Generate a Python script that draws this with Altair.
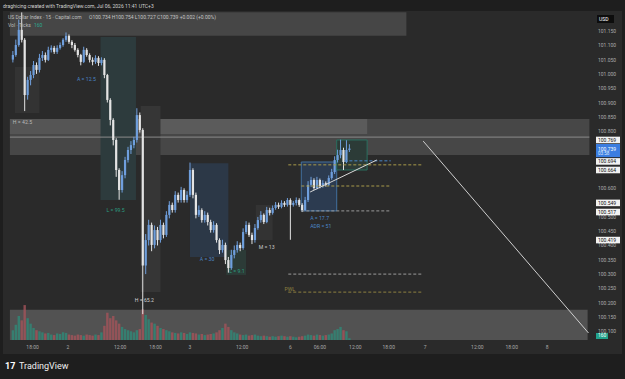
import altair as alt
import pandas as pd

FONT = "Roboto"

# ---------------- data (30-minute candles, US Dollar Index) ----------------
first_open = 101.050
closes = [
    101.066, 101.101, 101.154, 101.119, 100.926, 100.979, 100.996, 101.031, 101.014, 101.056,
    101.066, 101.049, 101.084, 101.091, 101.077, 101.091, 101.101, 101.119, 101.133, 101.112,
    101.101, 101.084, 101.066, 101.042, 101.084, 101.066, 101.049, 101.042, 101.056, 101.038,
    101.049, 100.996, 100.909, 100.839, 100.769, 100.664, 100.594, 100.646, 100.699, 100.734,
    100.751, 100.769, 100.856, 100.804, 100.330, 100.419, 100.472, 100.402, 100.454, 100.419,
    100.472, 100.437, 100.507, 100.542, 100.524, 100.577, 100.559, 100.594, 100.559, 100.577,
    100.664, 100.577, 100.507, 100.524, 100.489, 100.507, 100.482, 100.454, 100.472, 100.419,
    100.384, 100.402, 100.349, 100.321, 100.367, 100.384, 100.402, 100.391, 100.447, 100.472,
    100.437, 100.419, 100.461, 100.489, 100.507, 100.482, 100.524, 100.514, 100.531, 100.542,
    100.535, 100.549, 100.542, 100.559, 100.542, 100.549, 100.559, 100.542, 100.524, 100.559,
    100.612, 100.629, 100.601, 100.629, 100.608, 100.618, 100.612, 100.636, 100.657, 100.699,
    100.716, 100.734, 100.692, 100.734, 100.739,
]
highs = [
    101.080, 101.120, 101.190, 101.215, 101.125, 100.990, 101.010, 101.045, 101.040, 101.070,
    101.080, 101.075, 101.095, 101.100, 101.098, 101.100, 101.110, 101.125, 101.145, 101.138,
    101.118, 101.108, 101.090, 101.070, 101.095, 101.090, 101.072, 101.058, 101.065, 101.062,
    101.058, 101.055, 101.000, 100.915, 100.845, 100.775, 100.670, 100.660, 100.710, 100.745,
    100.765, 100.780, 100.880, 100.865, 100.810, 100.440, 100.490, 100.480, 100.470, 100.465,
    100.490, 100.480, 100.520, 100.555, 100.550, 100.590, 100.585, 100.605, 100.600, 100.590,
    100.690, 100.670, 100.585, 100.540, 100.530, 100.520, 100.515, 100.490, 100.485, 100.478,
    100.425, 100.420, 100.410, 100.360, 100.385, 100.400, 100.415, 100.410, 100.460, 100.485,
    100.480, 100.445, 100.475, 100.500, 100.520, 100.512, 100.535, 100.532, 100.540, 100.552,
    100.550, 100.558, 100.555, 100.566, 100.565, 100.556, 100.568, 100.565, 100.548, 100.570,
    100.625, 100.640, 100.635, 100.640, 100.634, 100.628, 100.624, 100.645, 100.668, 100.712,
    100.735, 100.770, 100.742, 100.768, 100.754,
]
lows = [
    101.040, 101.060, 101.095, 101.110, 100.870, 100.910, 100.960, 100.985, 101.000, 101.005,
    101.045, 101.040, 101.045, 101.075, 101.070, 101.070, 101.085, 101.095, 101.112, 101.105,
    101.090, 101.078, 101.058, 101.030, 101.038, 101.060, 101.040, 101.030, 101.035, 101.028,
    101.030, 100.985, 100.900, 100.820, 100.750, 100.640, 100.560, 100.585, 100.635, 100.690,
    100.720, 100.740, 100.760, 100.795, 100.160, 100.300, 100.400, 100.380, 100.390, 100.400,
    100.410, 100.425, 100.430, 100.495, 100.515, 100.515, 100.550, 100.550, 100.550, 100.550,
    100.570, 100.565, 100.495, 100.500, 100.480, 100.480, 100.470, 100.445, 100.445, 100.410,
    100.370, 100.375, 100.335, 100.305, 100.315, 100.355, 100.375, 100.380, 100.385, 100.440,
    100.430, 100.405, 100.410, 100.455, 100.480, 100.475, 100.478, 100.505, 100.508, 100.525,
    100.528, 100.530, 100.535, 100.536, 100.420, 100.536, 100.540, 100.535, 100.517, 100.520,
    100.552, 100.605, 100.595, 100.596, 100.600, 100.602, 100.606, 100.608, 100.630, 100.650,
    100.690, 100.705, 100.664, 100.688, 100.727,
]
volumes = [
    900, 1400, 2200, 1800, 3200, 2000, 1500, 1100, 900, 800,
    700, 600, 650, 500, 450, 600, 550, 700, 650, 500,
    450, 400, 500, 450, 400, 500, 450, 400, 500, 450,
    700, 1300, 2500, 2000, 2200, 1800, 1500, 1200, 1000, 900,
    800, 700, 900, 1000, 2800, 2300, 1900, 1600, 1500, 1300,
    1100, 1000, 900, 800, 700, 650, 600, 700, 650, 550,
    700, 650, 600, 500, 550, 450, 500, 550, 600, 700,
    900, 1100, 1500, 1200, 900, 700, 600, 500, 450, 500,
    400, 450, 500, 400, 350, 400, 350, 300, 350, 300,
    350, 400, 350, 300, 350, 300, 250, 300, 350, 400,
    500, 450, 400, 500, 450, 400, 450, 500, 600, 900,
    1000, 1200, 900, 800, 160,
]

time_tick_pos = [6.67, 18.67, 36.33, 48.33, 60, 77.67, 94, 104, 116, 127.33, 139.67, 157.33, 169, 181]
time_tick_lbl = ["18:00", "2", "12:00", "18:00", "3", "12:00", "6", "06:00", "12:00", "18:00", "7", "12:00", "18:00", "8"]

price_ticks = [101.150, 101.100, 101.050, 101.000, 100.950, 100.900, 100.850, 100.800,
               100.600, 100.500, 100.450, 100.400, 100.350, 100.300, 100.250, 100.200, 100.150, 100.100]
marked_prices = [100.769, 100.694, 100.664, 100.549, 100.517, 100.419]
last_price = 100.739

# zones / drawings in (bar index, price)
zone_x1 = [-1.0, -1.0, -1.0, 43.0, -1.0]
zone_x2 = [133.3, 195.3, 120.0, 120.0, 194.7]
zone_p1 = [101.216, 100.842, 100.842, 100.842, 100.175]
zone_p2 = [101.133, 100.716, 100.790, 100.790, 100.070]
zone_fill = ["#464646", "#474747", "#555555", "#5b5b5b", "#525252"]

shade_x1 = [0.7, 29.7, 43.3, 60.0, 72.3, 82.3]
shade_x2 = [9.0, 41.7, 50.0, 73.0, 79.0, 88.0]
shade_p1 = [101.024, 101.129, 100.888, 100.688, 100.384, 100.542]
shade_p2 = [100.863, 100.559, 100.237, 100.360, 100.297, 100.419]
shade_fill = ["#333333", "#2d3b3d", "#363636", "#2c3847", "#2c3b37", "#333333"]

dash_x1 = [93.3, 97.7, 97.7, 112.3, 93.3, 93.3]
dash_x2 = [139.0, 128.0, 128.0, 128.0, 139.0, 139.0]
dash_p = [100.682, 100.608, 100.521, 100.696, 100.300, 100.237]
dash_col = ["#a89a4a", "#a89a4a", "#9a9a9a", "#4a86c8", "#9a9a9a", "#8f8240"]

ann_i = [0.0, 21.7, 31.7, 41.3, 63.3, 73.3, 83.3, 100.7, 100.7, 92.0]
ann_p = [100.832, 100.982, 100.524, 100.209, 100.353, 100.311, 100.395, 100.496, 100.468, 100.248]
ann_txt = ["H = 42.5", "A = 12.5", "L = 99.5", "H = 65.2", "A = 30", "L = 9.1", "M = 13",
           "A = 17.7", "ADR = 51", "PWL"]
ann_col = ["#b8b8b8", "#4a86c8", "#2a9d80", "#d0d0d0", "#4a86c8", "#2a9d80", "#c8c8c8",
           "#4a86c8", "#4a86c8", "#8f8240"]

# ---------------- frames ----------------
n = len(closes)
opens = [first_open] + closes[:-1]
cdf = pd.DataFrame({"i": list(range(n)), "open": opens, "close": closes,
                    "high": highs, "low": lows, "vol": volumes})
up = cdf["close"] >= cdf["open"]
cdf["ccol"] = ["#6f9fdd" if u else "#e4e4e4" for u in up]
cdf["vcol"] = ["#2f8a78" if u else "#a4545a" for u in up]

XS = alt.Scale(domain=[-8 / 3, 617 / 3], nice=False, zero=False)
YS = alt.Scale(domain=[99.9332, 101.2584], nice=False, zero=False)
X = lambda f: alt.X(f, scale=XS, axis=None)
Y = lambda f: alt.Y(f, scale=YS, axis=None)
one = pd.DataFrame({"k": [0]})


def ptext(txt, x, y, size=5.0, color="#b2b2b2", weight="normal", align="left"):
    return alt.Chart(one).mark_text(text=txt, fontSize=size, color=color, font=FONT,
                                    fontWeight=weight, align=align, baseline="middle").encode(
        x=alt.value(x), y=alt.value(y))


pane = alt.Chart(one).mark_rect(color="#2a2a2a").encode(
    x=alt.value(3), x2=alt.value(622), y=alt.value(11), y2=alt.value(354))

zdf = pd.DataFrame({"x1": zone_x1, "x2": zone_x2, "p1": zone_p1, "p2": zone_p2, "f": zone_fill})
zones = alt.Chart(zdf).mark_rect().encode(x=X("x1:Q"), x2="x2:Q", y=Y("p1:Q"), y2="p2:Q",
                                           color=alt.Color("f:N", scale=None))
sdf = pd.DataFrame({"x1": shade_x1, "x2": shade_x2, "p1": shade_p1, "p2": shade_p2, "f": shade_fill})
shades = alt.Chart(sdf).mark_rect().encode(x=X("x1:Q"), x2="x2:Q", y=Y("p1:Q"), y2="p2:Q",
                                           color=alt.Color("f:N", scale=None))
hline = alt.Chart(pd.DataFrame({"x1": [-1.0], "x2": [195.3], "p": [100.779]})).mark_rule(
    color="#8c8c8c", strokeWidth=1).encode(x=X("x1:Q"), x2="x2:Q", y=Y("p:Q"))

box_df = pd.DataFrame({"x1": [97.7, 109.7], "x2": [109.7, 120.0], "p1": [100.692, 100.769],
                       "p2": [100.521, 100.664], "f": ["#2c3b50", "#2c3b37"], "s": ["#42709f", "#2a6f60"]})
boxes = alt.Chart(box_df).mark_rect(strokeWidth=1).encode(
    x=X("x1:Q"), x2="x2:Q", y=Y("p1:Q"), y2="p2:Q",
    color=alt.Color("f:N", scale=None), stroke=alt.Stroke("s:N", scale=None))

bg_group = alt.layer(zones, shades, hline, boxes)

vol = alt.Chart(cdf).mark_bar(size=2.4, opacity=0.8).encode(
    x=X("i:Q"), y=alt.Y("vol:Q", scale=alt.Scale(domain=[0, 3300], range=[340, 304]), axis=None),
    color=alt.Color("vcol:N", scale=None))

wicks = alt.Chart(cdf).mark_rule(strokeWidth=1).encode(
    x=X("i:Q"), y=Y("low:Q"), y2="high:Q", color=alt.Color("ccol:N", scale=None))
bodies = alt.Chart(cdf).mark_bar(size=2.2).encode(
    x=X("i:Q"), y=Y("open:Q"), y2="close:Q", color=alt.Color("ccol:N", scale=None))

ddf = pd.DataFrame({"x1": dash_x1, "x2": dash_x2, "p": dash_p, "c": dash_col})
dashes = alt.Chart(ddf).mark_rule(strokeWidth=1, strokeDash=[3, 2]).encode(
    x=X("x1:Q"), x2="x2:Q", y=Y("p:Q"), color=alt.Color("c:N", scale=None))
ldf = pd.DataFrame({"x1": [100.7, 139.0], "x2": [123.3, 195.0], "p1": [100.587, 100.765],
                    "p2": [100.699, 100.094], "c": ["#d8d8d8", "#cfcfcf"]})
lines = alt.Chart(ldf).mark_rule(strokeWidth=1).encode(
    x=X("x1:Q"), x2="x2:Q", y=Y("p1:Q"), y2="p2:Q", color=alt.Color("c:N", scale=None))

adf = pd.DataFrame({"i": ann_i, "p": ann_p, "t": ann_txt, "c": ann_col})
anns = alt.Chart(adf).mark_text(align="left", baseline="middle", fontSize=5.2, font=FONT).encode(
    x=X("i:Q"), y=Y("p:Q"), text="t:N", color=alt.Color("c:N", scale=None))

# price axis
pdf = pd.DataFrame({"p": price_ticks})
plabels = alt.Chart(pdf).mark_text(align="left", baseline="middle", fontSize=5, font=FONT,
                                   color="#aaaaaa").encode(
    x=alt.value(598), y=Y("p:Q"), text=alt.Text("p:Q", format=".3f"))
mdf = pd.DataFrame({"p": marked_prices})
mdf["pt"] = mdf["p"] + 0.0115
mdf["pb"] = mdf["p"] - 0.0115
mboxes = alt.Chart(mdf).mark_rect(color="#f2f2f2").encode(
    x=alt.value(596), x2=alt.value(620), y=Y("pt:Q"), y2="pb:Q")
mtext = alt.Chart(mdf).mark_text(align="left", baseline="middle", fontSize=5, font=FONT,
                                 color="#111111").encode(
    x=alt.value(598), y=Y("p:Q"), text=alt.Text("p:Q", format=".3f"))
ldf2 = pd.DataFrame({"pt": [last_price + 0.016], "pb": [last_price - 0.030]})
lbox = alt.Chart(ldf2).mark_rect(color="#3b7de0").encode(
    x=alt.value(596), x2=alt.value(620), y=Y("pt:Q"), y2="pb:Q")
lt = pd.DataFrame({"p": [last_price], "p2": [last_price - 0.018]})
ltext = alt.Chart(lt).mark_text(align="left", baseline="middle", fontSize=5, font=FONT,
                                color="#ffffff").encode(
    x=alt.value(598), y=Y("p:Q"), text=alt.Text("p:Q", format=".3f"))
ltext2 = alt.Chart(lt).mark_text(text="03:58", align="left", baseline="middle", fontSize=4.6,
                                 font=FONT, color="#dfe9ff").encode(x=alt.value(598), y=Y("p2:Q"))

# time axis
tdf = pd.DataFrame({"i": time_tick_pos, "t": time_tick_lbl})
tlabels = alt.Chart(tdf).mark_text(align="center", baseline="middle", fontSize=5, font=FONT,
                                   color="#a8a8a8").encode(x=X("i:Q"), y=alt.value(347), text="t:N")

vbox = alt.Chart(one).mark_rect(color="#22a38c").encode(
    x=alt.value(596), x2=alt.value(608), y=alt.value(333), y2=alt.value(339))
usd = alt.Chart(one).mark_rect(color="#0d0d0d").encode(
    x=alt.value(597), x2=alt.value(614), y=alt.value(15), y2=alt.value(23))

texts = [
    ptext("draghicing created with TradingView.com, Jul 06, 2026 11:41 UTC+3", 3, 6, 5, "#d2d2d2"),
    ptext("US Dollar Index · 15 · Capital.com", 8, 17, 5, "#bdbdbd"),
    ptext("O100.734  H100.754  L100.727  C100.739  +0.002 (+0.00%)", 89, 17, 5, "#c4c4c4"),
    ptext("Vol · Ticks", 8, 25, 5, "#bdbdbd"),
    ptext("160", 34, 25, 5, "#2aa88f"),
    ptext("USD", 599, 19, 5, "#ffffff"),
    ptext("160", 598, 336, 4.8, "#ffffff"),
    ptext("17", 5, 366, 9, "#ffffff", "bold"),
    ptext("TradingView", 19, 366, 9, "#f0f0f0"),
]

fg_group = alt.layer(wicks, bodies, dashes, lines, anns, plabels, mboxes, mtext, lbox, ltext,
                     ltext2, tlabels)

chart = alt.layer(pane, bg_group, vol, fg_group, vbox, usd, *texts).resolve_scale(
    y="independent").properties(
    width=625, height=379, autosize=alt.AutoSizeParams(type="none"), padding=0,
    background="#1e1e1e").configure_view(strokeWidth=0)

chart.save("out.html", embed_options={"renderer": "svg", "actions": False})
